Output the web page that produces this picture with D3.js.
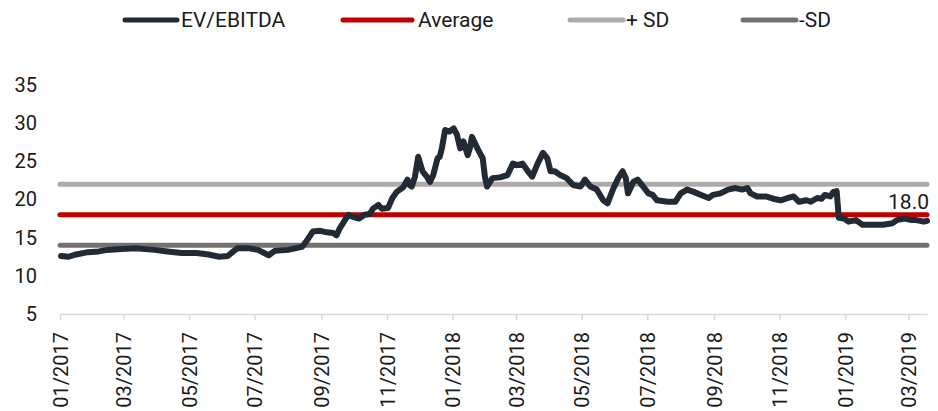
<!DOCTYPE html>
<html>
<head>
<meta charset="utf-8">
<script src="https://cdn.jsdelivr.net/npm/d3@7"></script>
<style>
  html, body { margin: 0; padding: 0; background: #ffffff; }
  svg { display: block; font-family: Roboto, "Noto Sans", sans-serif; }
</style>
</head>
<body>
<svg id="chart" width="938" height="411"></svg>
<script>
// EV/EBITDA multiple, observation dates
const dates = [
  "2017-01-02","2017-01-09","2017-01-16","2017-01-27","2017-02-06","2017-02-14","2017-02-27",
  "2017-03-13","2017-03-21","2017-03-30","2017-04-11","2017-04-24","2017-05-08","2017-05-19",
  "2017-05-29","2017-06-06","2017-06-12","2017-06-15","2017-06-26","2017-07-04","2017-07-14",
  "2017-07-20","2017-08-01","2017-08-14","2017-08-18","2017-08-24","2017-08-31","2017-09-06",
  "2017-09-12","2017-09-15","2017-09-18","2017-09-22","2017-09-26","2017-09-29","2017-10-06",
  "2017-10-11","2017-10-16","2017-10-19","2017-10-24","2017-10-27","2017-11-02","2017-11-06",
  "2017-11-10","2017-11-16","2017-11-20","2017-11-22","2017-11-24","2017-11-27","2017-11-30",
  "2017-12-04","2017-12-08","2017-12-11","2017-12-14","2017-12-18","2017-12-20","2017-12-22",
  "2017-12-25","2017-12-29","2018-01-02","2018-01-05","2018-01-08","2018-01-11","2018-01-15",
  "2018-01-17","2018-01-19","2018-01-24","2018-01-29","2018-01-31","2018-02-02","2018-02-07",
  "2018-02-14","2018-02-21","2018-02-26","2018-03-02","2018-03-07","2018-03-12","2018-03-16",
  "2018-03-21","2018-03-26","2018-03-30","2018-04-02","2018-04-06","2018-04-11","2018-04-17",
  "2018-04-23","2018-04-30","2018-05-04","2018-05-09","2018-05-15","2018-05-21","2018-05-25",
  "2018-05-30","2018-06-04","2018-06-08","2018-06-11","2018-06-13","2018-06-18","2018-06-22",
  "2018-06-26","2018-07-02","2018-07-06","2018-07-10","2018-07-20","2018-07-27","2018-08-01",
  "2018-08-07","2018-08-13","2018-08-20","2018-08-27","2018-08-31","2018-09-07","2018-09-14",
  "2018-09-21","2018-09-27","2018-10-02","2018-10-05","2018-10-11","2018-10-19","2018-10-26",
  "2018-11-02","2018-11-09","2018-11-14","2018-11-19","2018-11-26","2018-11-30","2018-12-06",
  "2018-12-10","2018-12-13","2018-12-18","2018-12-21","2018-12-24","2018-12-26","2018-12-31",
  "2019-01-04","2019-01-11","2019-01-17","2019-01-25","2019-02-05","2019-02-14","2019-02-18",
  "2019-02-25","2019-03-04","2019-03-08","2019-03-15","2019-03-18"
];
const evEbitda = [
  12.6,12.5,12.8,13.1,13.2,13.4,13.5,
  13.6,13.5,13.4,13.2,13.0,13.0,12.8,
  12.5,12.6,13.3,13.6,13.6,13.4,12.7,
  13.3,13.4,13.8,14.5,15.8,15.9,15.7,
  15.6,15.3,16.2,17.1,18.0,17.8,17.5,
  18.0,18.1,18.8,19.3,18.8,18.9,20.2,
  21.0,21.6,22.6,21.9,21.7,23.0,25.6,
  23.7,23.0,22.3,23.2,25.4,25.6,26.7,
  29.1,28.9,29.3,28.5,26.7,27.6,25.8,
  26.7,28.2,26.7,25.4,23.0,21.7,22.8,
  22.9,23.2,24.7,24.5,24.7,23.7,23.0,
  24.7,26.1,25.4,23.7,23.7,23.2,22.8,
  21.9,21.7,22.6,21.7,21.3,19.9,19.5,
  21.3,22.8,23.7,22.8,20.8,22.3,22.6,
  21.9,20.8,20.6,19.9,19.7,19.7,20.8,
  21.3,21.0,20.6,20.2,20.6,20.8,21.3,
  21.5,21.3,21.5,20.8,20.4,20.4,20.1,
  19.9,20.2,20.4,19.7,19.9,19.7,20.2,
  20.1,20.6,20.4,21.0,21.1,17.6,17.5,
  17.1,17.3,16.7,16.7,16.7,16.9,17.3,
  17.5,17.3,17.3,17.1,17.2
];

// Reference levels over the whole period
const levelNames  = ["Average", "+ SD", "-SD"];
const levelValues = [18.0, 22.0, 14.0];
const levelColors = ["#c00000", "#aeaaaa", "#767171"];

const legendNames  = ["EV/EBITDA", "Average", "+ SD", "-SD"];
const legendColors = ["#222a35", "#c00000", "#aeaaaa", "#767171"];

const yTicks = [5, 10, 15, 20, 25, 30, 35];
const xTickDates = [
  "2017-01-01","2017-03-01","2017-05-01","2017-07-01","2017-09-01","2017-11-01",
  "2018-01-01","2018-03-01","2018-05-01","2018-07-01","2018-09-01","2018-11-01",
  "2019-01-01","2019-03-01"
];

const parse = d3.timeParse("%Y-%m-%d");
const fmt = d3.timeFormat("%m/%Y");
const series = dates.map((d, i) => ({ date: parse(d), value: evEbitda[i] }));
const startDate = parse("2017-01-01");
const endDate = series[series.length - 1].date;

const svg = d3.select("#chart");

const x = d3.scaleTime()
  .domain([startDate, endDate])
  .range([60, 927]);
const y = d3.scaleLinear()
  .domain([5, 35])
  .range([314, 85]);

// x axis: baseline, ticks and rotated month labels
const xAxis = d3.axisBottom(x)
  .tickValues(xTickDates.map(parse))
  .tickFormat(fmt)
  .tickSizeInner(6)
  .tickSizeOuter(0);
const gx = svg.append("g")
  .attr("transform", `translate(0,${y(5)})`)
  .call(xAxis);
gx.select(".domain").attr("stroke", "#d9d9d9").attr("stroke-width", 1.5);
gx.selectAll(".tick line").attr("stroke", "#d9d9d9").attr("stroke-width", 1.5);
gx.selectAll(".tick text")
  .attr("transform", "rotate(-90)")
  .attr("x", -18)
  .attr("y", 0)
  .attr("dy", "0.35em")
  .attr("text-anchor", "end")
  .attr("fill", "#1a1a1a")
  .style("font-size", "20px")
  .style("font-family", "Roboto, sans-serif");

// y axis: labels only
const yAxis = d3.axisLeft(y).tickValues(yTicks).tickSize(0).tickPadding(0);
const gy = svg.append("g")
  .attr("transform", "translate(37,0)")
  .call(yAxis);
gy.select(".domain").remove();
gy.selectAll(".tick text")
  .attr("fill", "#1a1a1a")
  .style("font-size", "20px")
  .style("font-family", "Roboto, sans-serif");

// horizontal reference levels
levelValues.forEach((v, i) => {
  const pts = [{ date: startDate, value: v }, { date: endDate, value: v }];
  svg.append("path")
    .datum(pts)
    .attr("fill", "none")
    .attr("stroke", levelColors[i])
    .attr("stroke-width", 5)
    .attr("stroke-linecap", "round")
    .attr("d", d3.line().x(d => x(d.date)).y(d => y(d.value)));
});

// EV/EBITDA series
svg.append("path")
  .datum(series)
  .attr("fill", "none")
  .attr("stroke", "#222a35")
  .attr("stroke-width", 6)
  .attr("stroke-linejoin", "round")
  .attr("stroke-linecap", "round")
  .attr("d", d3.line().x(d => x(d.date)).y(d => y(d.value)));

// value label on the average line
svg.append("text")
  .attr("x", x(endDate) + 2)
  .attr("y", y(levelValues[0]) - 6)
  .attr("text-anchor", "end")
  .attr("fill", "#1a1a1a")
  .style("font-size", "21px")
  .text(d3.format(".1f")(levelValues[0]));

// legend: swatch start/end and label start per entry
const legendLineStart = [125, 343, 570, 743];
const legendLineEnd   = [177, 412, 623, 796];
const legendTextX     = [181, 418, 626, 799];
const legendY = 20;
const legend = svg.append("g");
legendNames.forEach((name, i) => {
  legend.append("line")
    .attr("x1", legendLineStart[i]).attr("x2", legendLineEnd[i])
    .attr("y1", legendY).attr("y2", legendY)
    .attr("stroke", legendColors[i])
    .attr("stroke-width", 5)
    .attr("stroke-linecap", "round");
  legend.append("text")
    .attr("x", legendTextX[i])
    .attr("y", legendY)
    .attr("dy", "0.35em")
    .attr("fill", "#1a1a1a")
    .style("font-size", "21px")
    .text(name);
});
</script>
</body>
</html>
